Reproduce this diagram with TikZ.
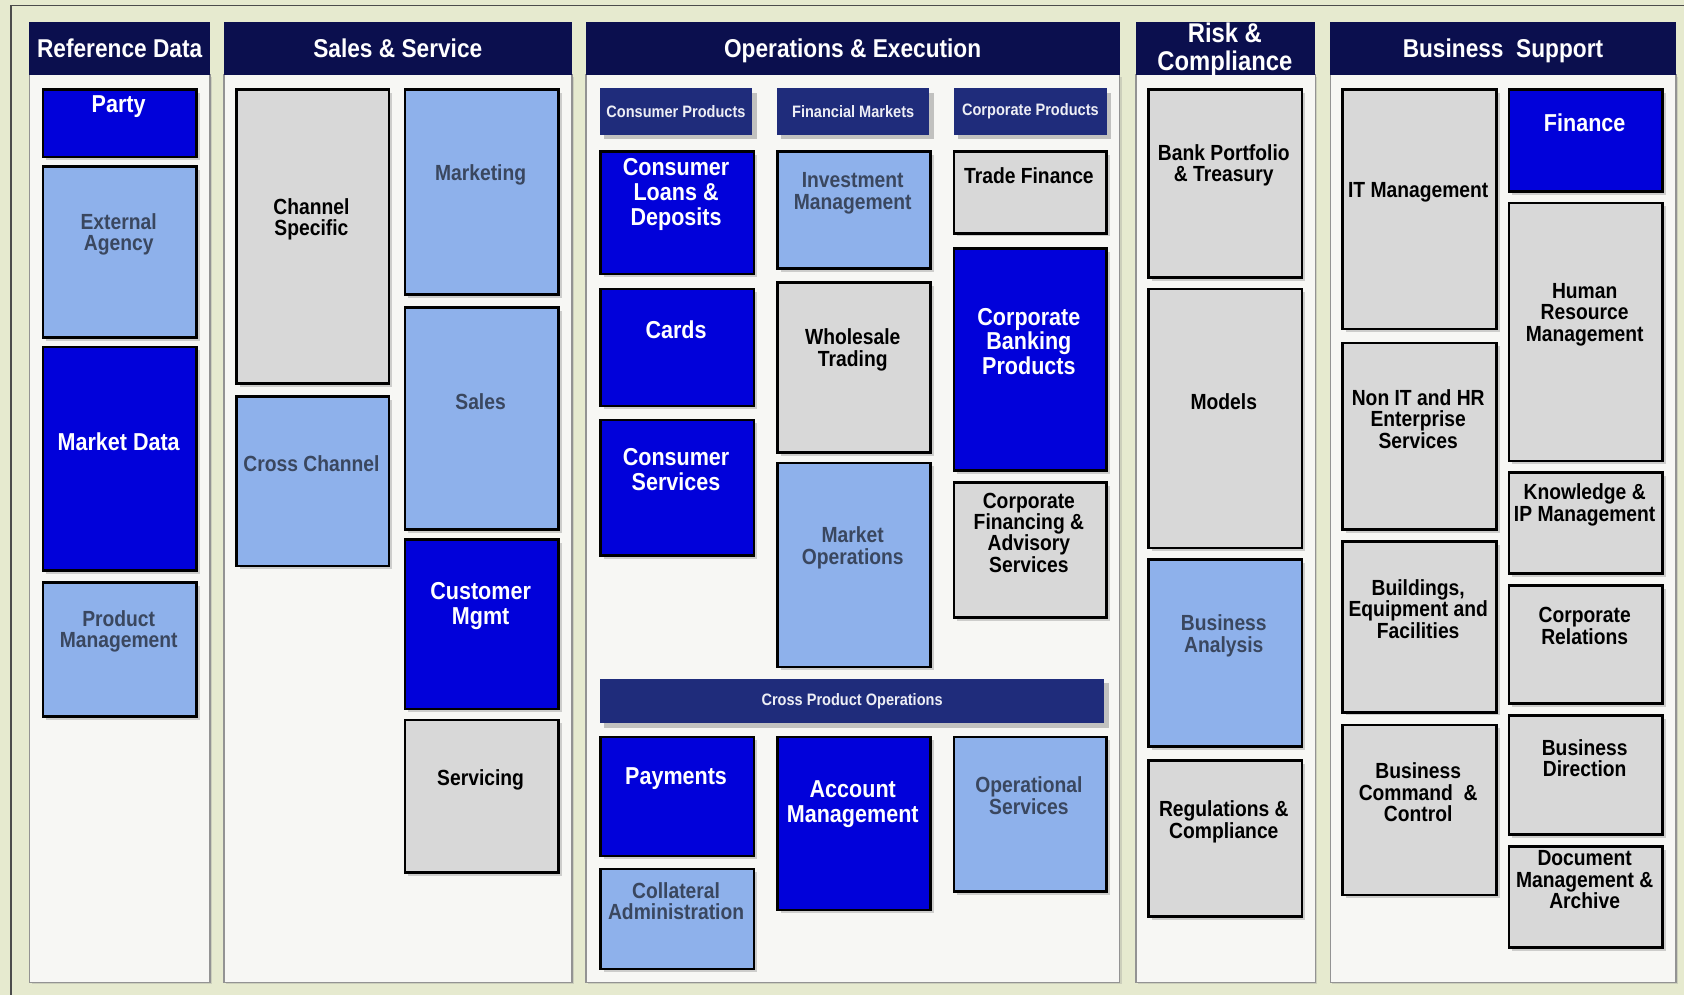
\documentclass[tikz,border=0pt]{standalone}
\usepackage{fontspec}
\setmainfont{Liberation Sans}
\newfontfamily\capfont{Liberation Sans}[FakeStretch=0.88]
\usetikzlibrary{shadows}
\definecolor{framebg}{HTML}{E6EACF}
\definecolor{panelbg}{HTML}{F7F7F4}
\definecolor{navy}{HTML}{0B0F4E}
\definecolor{subnavy}{HTML}{1F2C7B}
\definecolor{capblue}{HTML}{0101DA}
\definecolor{caplite}{HTML}{8EB1EB}
\definecolor{capgray}{HTML}{D8D8D8}
\definecolor{litetext}{HTML}{3A475F}
\begin{document}
\begin{tikzpicture}[x=0.5pt,y=-0.5pt,
  panel/.style={draw=gray!85,fill=panelbg,line width=0.6pt,inner sep=0pt,anchor=north west,
    drop shadow={shadow xshift=1pt,shadow yshift=-1pt,opacity=0.25}},
  header/.style={fill=navy,text=white,inner sep=0pt,anchor=north west,align=center,
    text height=8.6pt,text depth=0pt,font=\capfont\bfseries\fontsize{12}{12}\selectfont},
  subhead/.style={fill=subnavy,text=white!92!subnavy,inner sep=0pt,anchor=north west,
    font=\capfont\bfseries\fontsize{7.7}{8}\selectfont,
    drop shadow={shadow xshift=2pt,shadow yshift=-2pt,opacity=0.45}},
  capbox/.style={draw=black,line width=1.2pt,inner sep=0pt,anchor=north west,
    drop shadow={shadow xshift=1.5pt,shadow yshift=-1.5pt,opacity=0.35}},
  blu/.style={capbox,fill=capblue},
  lite/.style={capbox,fill=caplite},
  gry/.style={capbox,fill=capgray},
  txt/.style={inner sep=0pt,align=center},
  txt-blu/.style={txt,text=white,font=\capfont\bfseries\fontsize{11.4}{11.5}\selectfont},
  txt-lite/.style={txt,text=litetext,font=\capfont\bfseries\fontsize{10.2}{10}\selectfont},
  txt-gry/.style={txt,text=black,font=\capfont\bfseries\fontsize{10.2}{10}\selectfont}]

\fill[framebg] (0,0) rectangle (1568,926);
\useasboundingbox (0,0) rectangle (1568,926);
\draw[gray!60!black,line width=0.8pt] (10,926) -- (10,5) -- (1568,5);

% columns
\foreach \nm/\xa/\xb/\txt in {refdata/27/195/Reference Data,salesvc/208/532/Sales \& Service,
    opsexec/545/1042/Operations \& Execution,riskcomp/1057/1224/{},bizsup/1238/1560/Business~ Support}{
  \node[panel,minimum width={(\xb-\xa)*0.5pt},minimum height={845*0.5pt}] (\nm-body) at (\xa,69) {};
  \node[header,minimum width={(\xb-\xa)*0.5pt},minimum height={49*0.5pt}] (\nm) at (\xa,20) {\txt};
}
\node[txt,text=white,font=\capfont\bfseries\fontsize{12.6}{13}\selectfont] (riskcomp-t) at (1140.5,46) {Risk \&\\Compliance};

% product headers
\foreach \nm/\xa/\ya/\xb/\yb/\txt in {conprod/558/82/700/125/Consumer Products,
    finmkt/723/82/865/125/Financial Markets,corpprod/888/82/1030/125/Corporate Products,
    crossprod/558/632/1028/673/Cross Product Operations}
  \node[subhead,minimum width={(\xb-\xa)*0.5pt},minimum height={(\yb-\ya)*0.5pt}] (\nm) at (\xa,\ya) {\txt};

% capability boxes
\foreach \nm/\xa/\ya/\xb/\yb/\st/\ty/\txt in {
    party/39/82/182/145/blu/99/Party,
    extagency/39/154/182/313/lite/218/External\\Agency,
    mktdata/39/322/182/530/blu/411/Market Data,
    prodmgmt/39/541/182/666/lite/588/Product\\Management,
    chanspec/219/82/361/356/gry/204/Channel\\Specific,
    crosschan/219/368/361/526/lite/432/Cross Channel,
    marketing/376/82/519/273/lite/163/Marketing,
    sales/376/285/519/492/lite/374/Sales,
    custmgmt/376/501/519/659/blu/564/Customer\\Mgmt,
    servicing/376/669/519/811/gry/726/Servicing,
    conloans/558/140/701/254/blu/181/Consumer\\Loans \&\\Deposits,
    cards/558/268/701/377/blu/307/Cards,
    conserv/558/390/701/516/blu/437/Consumer\\Services,
    invmgmt/723/140/865/249/lite/180/Investment\\Management,
    wholesale/723/262/865/420/gry/326/Wholesale\\Trading,
    mktops/723/430/865/620/lite/510/Market\\Operations,
    tradefin/887/140/1029/216/gry/164/Trade Finance,
    corpbank/887/230/1029/437/blu/318/Corporate\\Banking\\Products,
    corpfin/887/448/1029/574/gry/496/Corporate\\Financing \&\\Advisory\\Services,
    payments/558/685/701/796/blu/725/Payments,
    collateral/558/808/701/901/lite/839/Collateral\\Administration,
    acctmgmt/723/685/865/846/blu/749/Account\\Management,
    opserv/887/685/1029/829/lite/741/Operational\\Services,
    bankport/1068/82/1211/257/gry/154/Bank Portfolio\\\& Treasury,
    models/1068/268/1211/509/gry/374/Models,
    bizanal/1068/520/1211/694/lite/592/Business\\Analysis,
    regcomp/1068/707/1211/852/gry/765/Regulations \&\\Compliance,
    itmgmt/1249/82/1392/305/gry/179/IT Management,
    nonit/1249/318/1392/492/gry/390/Non IT and HR\\Enterprise\\Services,
    buildings/1249/503/1392/662/gry/567/{Buildings,\\Equipment and\\Facilities},
    bizcmd/1249/674/1392/832/gry/738/Business\\Command~~\&\\Control,
    finance/1404/82/1547/177/blu/114/Finance,
    hrmgmt/1404/188/1547/428/gry/293/Human\\Resource\\Management,
    knowledge/1404/439/1547/533/gry/470/Knowledge \&\\IP Management,
    corprel/1404/544/1547/654/gry/583/Corporate\\Relations,
    bizdir/1404/665/1547/776/gry/706/Business\\Direction,
    docmgmt/1404/787/1547/881/gry/819/Document\\Management \&\\Archive}{
  \node[\st,minimum width={(\xb-\xa)*0.5pt},minimum height={(\yb-\ya)*0.5pt}] (\nm) at (\xa,\ya) {};
  \node[txt-\st] (\nm-t) at ({(\xa+\xb)/2},\ty) {\txt};
}
\end{tikzpicture}
\end{document}
